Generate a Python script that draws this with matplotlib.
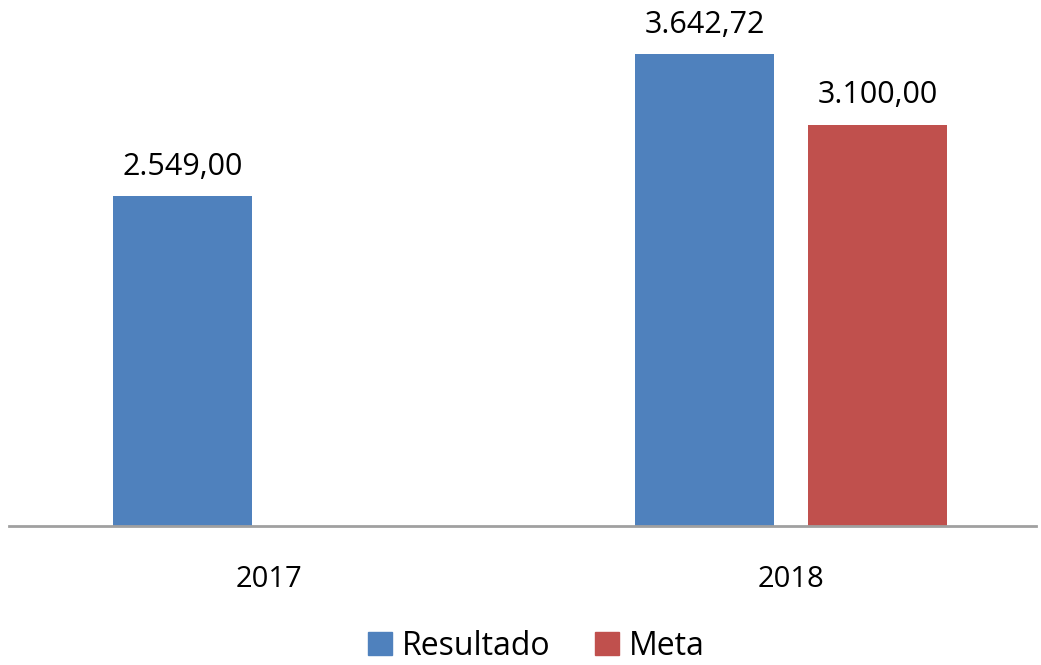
import matplotlib.pyplot as plt
from matplotlib.patches import Patch

# dados do grafico
anos = ["2017", "2018"]
resultado = [2549.00, 3642.72]
meta = [None, 3100.00]


def fmt_br(v):
    s = f"{v:,.2f}"
    return s.replace(",", "X").replace(".", ",").replace("X", ".")


def main():
    plt.rcParams['font.family'] = ['Open Sans', 'DejaVu Sans']
    azul = "#4F81BD"
    vermelho = "#C0504D"

    fig = plt.figure(figsize=(10.41, 6.65), dpi=100)
    ax = fig.add_axes([9 / 1041, 139 / 665, 1027 / 1041, 518 / 665])

    largura = 0.266
    desloc = 0.166
    x = list(range(len(anos)))

    for i in x:
        if resultado[i] is not None:
            ax.bar(i - desloc, resultado[i], width=largura, color=azul)
            ax.text(i - desloc, resultado[i] + 110, fmt_br(resultado[i]),
                    ha="center", va="bottom", fontsize=22)
        if meta[i] is not None:
            ax.bar(i + desloc, meta[i], width=largura, color=vermelho)
            ax.text(i + desloc, meta[i] + 110, fmt_br(meta[i]),
                    ha="center", va="bottom", fontsize=22)

    ax.set_ylim(0, 4000)
    ax.set_xlim(-0.498, 1.469)
    ax.set_yticks([])
    ax.set_xticks(x)
    ax.set_xticklabels(anos, fontsize=21)
    ax.tick_params(axis="x", length=0, pad=28)
    for s in ["top", "right", "left"]:
        ax.spines[s].set_visible(False)
    ax.spines["bottom"].set_color("#A0A0A0")
    ax.spines["bottom"].set_linewidth(2)

    handles = [Patch(color=azul, label="Resultado"),
               Patch(color=vermelho, label="Meta")]
    fig.legend(handles=handles, loc="lower center", bbox_to_anchor=(0.515, -0.04),
               ncol=2, frameon=False, fontsize=23, handlelength=0.75,
               handleheight=0.75, handletextpad=0.3, columnspacing=1.4)

    fig.savefig("out.png", dpi=100)


if __name__ == "__main__":
    main()
